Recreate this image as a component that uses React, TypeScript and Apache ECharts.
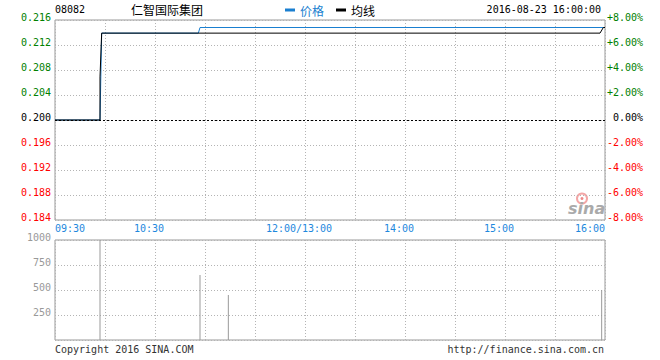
import React, { useEffect, useRef } from "react";
import * as echarts from "echarts";

// ---- data ----
const stockCode = "08082";
const stockName = "仁智国际集团";
const dateTime = "2016-08-23 16:00:00";
const prevClose = 0.2;

// minutes since 09:30 (lunch break removed: 0..330)
const tickMinutes = [0, 60, 150, 210, 270, 330];
const tickLabels = ["09:30", "10:30", "12:00/13:00", "14:00", "15:00", "16:00"];

const priceMinutes = [0, 27, 28, 86, 87, 330];
const priceValues = [0.2, 0.2, 0.2139, 0.2139, 0.2148, 0.2148];

const avgMinutes = [0, 27, 27, 28, 327, 329, 330];
const avgValues = [0.2, 0.2, 0.2069, 0.2139, 0.2139, 0.2148, 0.2148];

const volMinutes = [27, 87, 104, 328];
const volValues = [1000, 650, 450, 500];

const priceTicks = [0.184, 0.188, 0.192, 0.196, 0.2, 0.204, 0.208, 0.212, 0.216];
const pctTicks = [-8, -6, -4, -2, 0, 2, 4, 6, 8];
const volTicks = [0, 250, 500, 750, 1000];

const MONO = "'DejaVu Sans Mono', 'Liberation Mono', monospace";
const CJK = "'Noto Sans CJK SC', sans-serif";
const GREEN = "#008000";
const RED = "#ff0000";
const BLUE = "#1a7fd0";
const TIMEBLUE = "#1e88dd";
const GRIDC = "#b4b4b4";

export default function App() {
  const ref = useRef<HTMLDivElement>(null);
  useEffect(() => {
    if (!ref.current) return;
    const chart = echarts.init(ref.current, undefined, { renderer: "svg" });
    const pair = (xs: number[], ys: number[]) => xs.map((x, i) => [x, ys[i]]);
    const dotted = { show: true, lineStyle: { color: GRIDC, type: [1, 2] as any, width: 1 } };
    const priceColor = (v: any) => {
      const n = Number(v);
      if (n > prevClose + 1e-6) return GREEN;
      if (n < prevClose - 1e-6) return RED;
      return "#000";
    };
    const pctColor = (v: any) => {
      const n = Number(v);
      if (n > 1e-6) return GREEN;
      if (n < -1e-6) return RED;
      return "#000";
    };
    const lift = { verticalAlign: "bottom", lineHeight: 6 };
    chart.setOption({
      animation: false,
      backgroundColor: "#fff",
      legend: {
        left: 285,
        top: 4,
        padding: 0,
        itemWidth: 10,
        itemHeight: 3,
        itemGap: 12,
        icon: "rect",
        textStyle: { fontFamily: CJK, fontSize: 12 },
        data: [
          { name: "价格", textStyle: { color: BLUE } },
          { name: "均线", textStyle: { color: "#000" } },
        ],
      },
      grid: [
        { left: 55, top: 20, width: 550, height: 200, show: true, borderColor: "#999", borderWidth: 1 },
        { left: 55, top: 240, width: 550, height: 100, show: true, borderColor: "#999", borderWidth: 1 },
      ],
      xAxis: [
        {
          type: "value",
          gridIndex: 0,
          min: 0,
          max: 330,
          interval: 30,
          axisLine: { show: false },
          axisTick: { show: false },
          splitLine: dotted,
          axisLabel: {
            show: true,
            margin: 3,
            hideOverlap: false,
            alignMinLabel: "left",
            alignMaxLabel: "right",
            formatter: (v: number) => {
              const i = tickMinutes.indexOf(Math.round(v));
              if (i < 0) return "";
              if (i === 0 || i === tickMinutes.length - 1) return "{e|" + tickLabels[i] + "}";
              return "{n|" + tickLabels[i] + "}";
            },
            rich: {
              e: { fontFamily: MONO, fontSize: 10, color: TIMEBLUE },
              n: { fontFamily: MONO, fontSize: 10, color: TIMEBLUE, padding: [0, 12, 0, 0] },
            },
          },
        },
        {
          type: "value",
          gridIndex: 1,
          min: 0,
          max: 330,
          interval: 30,
          axisLine: { show: false },
          axisTick: { show: false },
          axisLabel: { show: false },
          splitLine: dotted,
        },
      ],
      yAxis: [
        {
          type: "value",
          gridIndex: 0,
          min: priceTicks[0],
          max: priceTicks[priceTicks.length - 1],
          interval: 0.004,
          position: "left",
          axisLine: { show: false },
          axisTick: { show: false },
          splitLine: dotted,
          axisLabel: {
            margin: 4,
            fontFamily: MONO,
            fontSize: 10,
            ...lift,
            formatter: (v: number) => Number(v).toFixed(3),
            color: priceColor,
          },
        },
        {
          type: "value",
          gridIndex: 0,
          min: pctTicks[0],
          max: pctTicks[pctTicks.length - 1],
          interval: 2,
          position: "right",
          axisLine: { show: false },
          axisTick: { show: false },
          splitLine: { show: false },
          axisLabel: {
            margin: 38,
            align: "right",
            fontFamily: MONO,
            fontSize: 10,
            ...lift,
            formatter: (v: number) => {
              const n = Number(v);
              if (Math.abs(n) < 1e-6) return "0.00%";
              return (n > 0 ? "+" : "") + n.toFixed(2) + "%";
            },
            color: pctColor,
          },
        },
        {
          type: "value",
          gridIndex: 1,
          min: volTicks[0],
          max: volTicks[volTicks.length - 1],
          interval: 250,
          axisLine: { show: false },
          axisTick: { show: false },
          splitLine: dotted,
          axisLabel: {
            margin: 4,
            fontFamily: MONO,
            fontSize: 10,
            color: "#999",
            ...lift,
            formatter: (v: number) => (Number(v) === 0 ? "" : String(v)),
          },
        },
      ],
      series: [
        {
          name: "价格",
          type: "line",
          xAxisIndex: 0,
          yAxisIndex: 0,
          data: pair(priceMinutes, priceValues),
          showSymbol: false,
          symbol: "none",
          color: BLUE,
          lineStyle: { color: BLUE, width: 1 },
          z: 2,
          markLine: {
            silent: true,
            symbol: ["none", "none"],
            label: { show: false },
            lineStyle: { color: "#000", type: [2, 2] as any, width: 1 },
            data: [{ yAxis: prevClose }],
          },
        },
        {
          name: "均线",
          type: "line",
          xAxisIndex: 0,
          yAxisIndex: 0,
          data: pair(avgMinutes, avgValues),
          showSymbol: false,
          symbol: "none",
          color: "#000",
          lineStyle: { color: "#000", width: 1 },
          z: 3,
        },
        {
          name: "成交量",
          type: "bar",
          xAxisIndex: 1,
          yAxisIndex: 2,
          barWidth: 1,
          data: pair(volMinutes, volValues),
          itemStyle: { color: "#999" },
        },
      ],
      graphic: [
        {
          type: "text",
          left: 55,
          top: 4,
          style: { text: stockCode, font: "10px " + MONO, fill: "#000" },
        },
        {
          type: "text",
          left: 131,
          top: 3,
          style: { text: stockName, font: "12px " + CJK, fill: "#000" },
        },
        {
          type: "text",
          right: 59,
          top: 4,
          style: { text: dateTime, font: "10px " + MONO, fill: "#000" },
        },
        {
          type: "text",
          left: 55,
          top: 344,
          style: { text: "Copyright 2016 SINA.COM", font: "10px " + MONO, fill: "#333" },
        },
        {
          type: "text",
          right: 56,
          top: 344,
          style: { text: "http://finance.sina.com.cn", font: "10px " + MONO, fill: "#333" },
        },
        {
          type: "group",
          left: 568,
          top: 191,
          silent: true,
          children: [
            { type: "circle", shape: { cx: 14, cy: 7, r: 5 }, style: { fill: "none", stroke: "#f4a6a6", lineWidth: 2 } },
            { type: "circle", shape: { cx: 14, cy: 7, r: 1.5 }, style: { fill: "#e88" } },
            {
              type: "text",
              x: 0,
              y: 9,
              style: { text: "sina", font: "italic bold 16px 'DejaVu Sans', sans-serif", fill: "#aaa" },
            },
          ],
        },
      ],
    });
    return () => chart.dispose();
  }, []);
  return (
    <div
      ref={ref}
      style={{ position: "fixed", left: 0, top: 0, width: 660, height: 360, background: "#fff" }}
    />
  );
}
